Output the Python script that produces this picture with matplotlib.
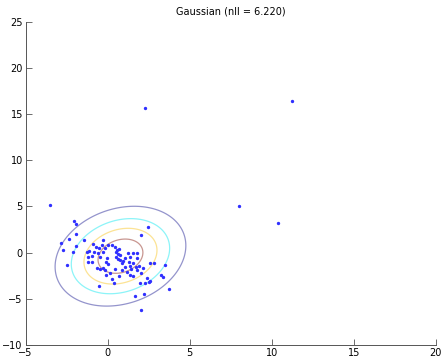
import numpy as np
import matplotlib
matplotlib.use('Agg')
import matplotlib.pyplot as plt

# data points
xs = [-3.52, -2.06, -1.90, -1.96, -2.34, -1.45, -2.85, -2.75, -1.90, -2.10, -2.47,
      -0.90, -0.72, -0.54, -0.33, -0.27, -0.17, -0.01, -1.29, -1.13, -0.84, -1.19,
      -0.94, -1.21, -0.96, -0.58, -0.48, -0.27, -0.07, -0.09, -0.68, -0.48, -0.31,
      -0.15, -0.52, 0.24, 0.44, 0.58, 0.70, 0.48, 0.64, 0.78, 0.50, 0.62, 0.74,
      0.95, 0.87, 1.05, 1.25, 1.52, 1.80, 1.35, 1.76, 1.27, 1.56, 1.72, 1.35, 1.45,
      0.46, 0.85, 1.15, 1.80, 1.92, 2.17, 2.02, 0.28, 0.38, 0.70, 1.35, 1.56, 1.96,
      2.27, 2.37, 2.51, 2.61, 2.61, 2.82, 3.28, 3.38, 3.49, 3.75, 1.66, 2.23, 2.06,
      2.43, 2.02, -0.11, 0.13, 0.03, 1.05,
      2.27, 11.25, 8.03, 10.40]
ys = [5.12, 3.42, 3.06, 1.98, 1.47, 1.33, 1.00, 0.32, 0.71, 0.03, -1.34,
      0.89, 0.64, 0.46, 0.82, 1.36, 0.53, 0.79, 0.10, 0.14, 0.06, -0.44,
      -0.40, -0.98, -0.98, -0.08, -0.44, 0.10, -0.62, -0.98, -1.63, -1.78, -1.63,
      -1.88, -3.62, 0.82, 0.64, 0.28, 0.35, 0.10, -0.15, -0.30, -0.44, -0.69, -0.80,
      -0.87, -1.09, -0.62, -0.08, -0.01, -0.08, -0.44, -0.62, -0.98, -1.16, -1.52, -1.45, -1.78,
      -1.81, -1.88, -2.06, -1.88, -1.45, -1.70, -2.25, -2.86, -3.26, -2.53, -2.43, -2.50, -3.33,
      -3.26, -2.79, -3.15, -3.11, -1.09, -1.13, -2.43, -2.68, -1.34, -3.98, -4.70, -4.48, -6.22,
      2.74, 1.87, -2.43, -2.25, -1.24, -1.60,
      15.65, 16.40, 5.05, 3.25]

# contour levels as fraction of peak density
level_fracs = [0.216, 0.42, 0.62, 0.835]
level_colors = ['#9494cc', '#8cf4f8', '#fce394', '#c89690']

X = np.column_stack([xs, ys])
mu = X.mean(axis=0)
Sigma = np.cov(X.T, bias=True)

gx, gy = np.meshgrid(np.linspace(-5, 20, 500), np.linspace(-10, 25, 500))
P = np.dstack([gx - mu[0], gy - mu[1]])
Si = np.linalg.inv(Sigma)
m = np.einsum('...i,ij,...j->...', P, Si, P)
Z = np.exp(-0.5 * m)

fig = plt.figure(figsize=(4.42, 3.59), dpi=100)
ax = fig.add_axes([0.058, 0.039, 0.928, 0.9006])
ax.contour(gx, gy, Z, levels=level_fracs, colors=level_colors, linewidths=0.9)
ax.plot(xs, ys, '.', color='#3030ff', markersize=2.8)

ax.set_xlim(-5, 20)
ax.set_ylim(-10, 25)
ax.set_xticks([-5, 0, 5, 10, 15, 20])
ax.set_yticks([-10, -5, 0, 5, 10, 15, 20, 25])
ax.spines['top'].set_visible(False)
ax.spines['right'].set_visible(False)
for s in ['left', 'bottom']:
    ax.spines[s].set_linewidth(0.7)
    ax.spines[s].set_color('#555555')
ax.tick_params(direction='in', length=4, width=0.6, color='#555555', labelsize=7, pad=2)
ax.set_title('Gaussian (nll = 6.220)', fontsize=7, pad=5)

fig.savefig('out.png', dpi=100)
